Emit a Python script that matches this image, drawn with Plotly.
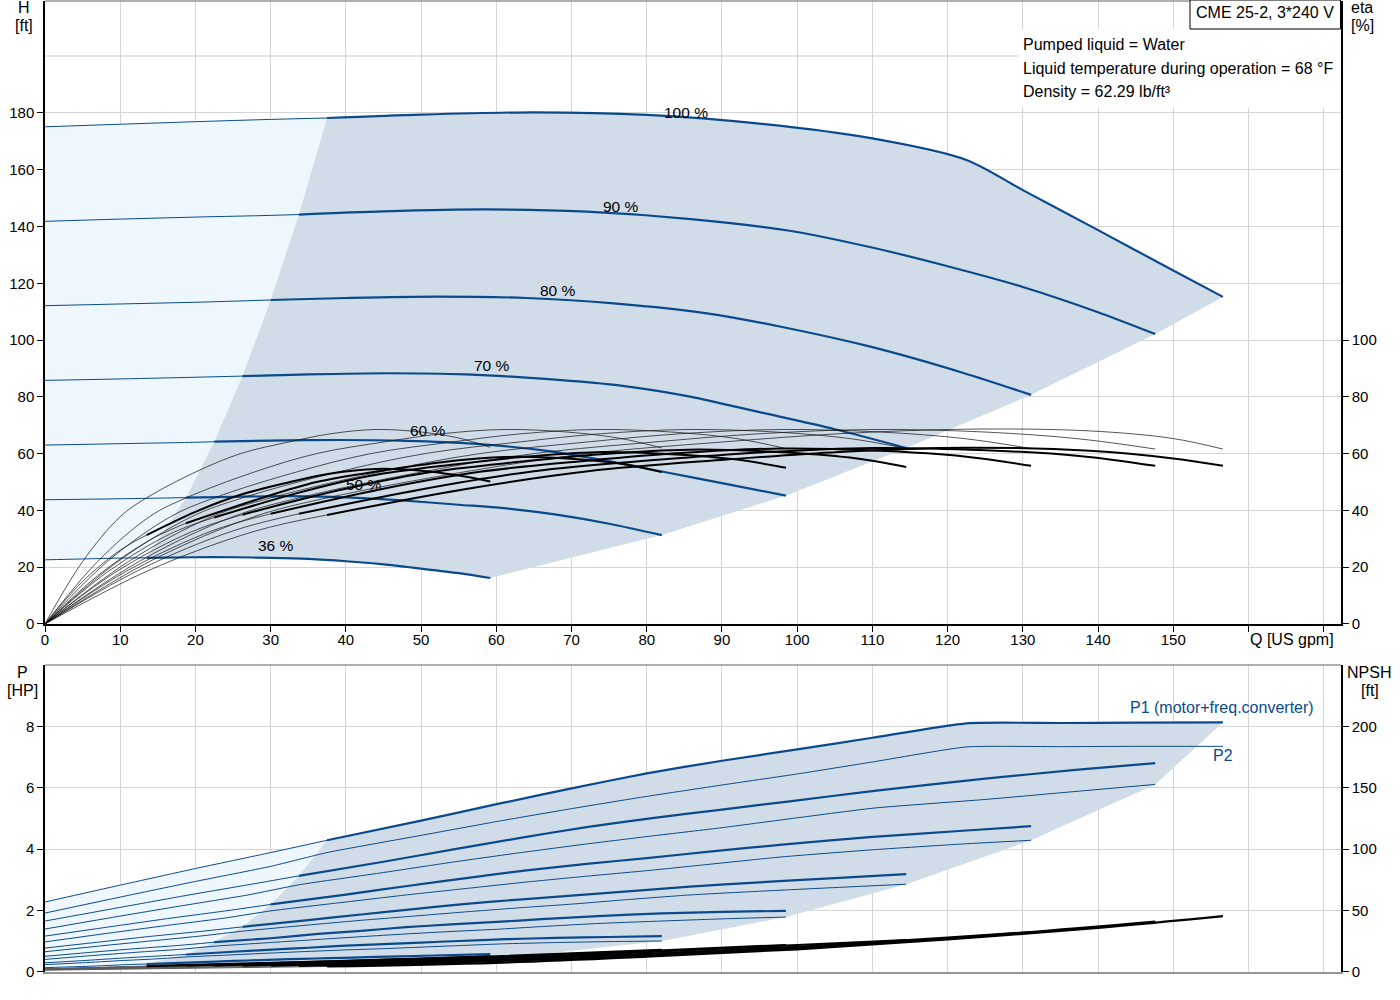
import numpy as np
import plotly.graph_objects as go

# ---------------- data ----------------
SPEEDS = ["100 %", "90 %", "80 %", "70 %", "60 %", "50 %", "36 %"]
QMIN = [37.5, 33.75, 30.0, 26.25, 22.5, 18.75, 13.5]   # min-flow point of each speed curve

# Head H [ft] vs Q [US gpm]
Q_H100 = [0, 10, 20, 30, 37.5, 50, 65, 80, 95, 110, 122.5, 130, 140, 150, 156.6]
H100 = [175.1, 176.0, 176.9, 177.7, 178.2, 179.4, 180.2, 179.3, 176.2, 171.0, 163.4, 152.8, 138.7, 124.5, 115.2]
Q_H90 = [0, 10, 20, 30, 33.75, 45, 58.5, 72, 85.5, 99, 110.25, 120, 130, 140, 147.6]
H90 = [141.8, 142.6, 143.3, 143.9, 144.2, 145.3, 146.0, 145.2, 142.7, 138.5, 132.4, 126.0, 118.7, 109.8, 102.1]
Q_H80 = [0, 10, 20, 30, 40, 52, 64, 76, 88, 98, 110, 122, 131.1]
H80 = [112.1, 112.7, 113.3, 114.1, 114.8, 115.3, 114.8, 112.8, 109.4, 104.6, 97.5, 88.5, 80.7]
Q_H70 = [0, 10, 20, 26.25, 35, 45.5, 56, 66.5, 77, 85.75, 95, 105, 114.5]
H70 = [85.8, 86.3, 86.9, 87.3, 87.9, 88.3, 87.9, 86.3, 83.8, 80.1, 74.6, 68.6, 62.0]
Q_H60 = [0, 10, 20, 22.5, 30, 39, 48, 57, 66, 74, 82, 90, 98.5]
H60 = [63.0, 63.5, 64.0, 64.2, 64.6, 64.8, 64.5, 63.5, 61.2, 57.8, 53.7, 49.6, 45.2]
Q_H50 = [0, 10, 18.75, 25, 32.5, 40, 47.5, 55, 61, 68, 75, 82]
H50 = [43.75, 44.1, 44.5, 44.8, 45.0, 44.6, 43.5, 42.0, 40.8, 38.5, 35.3, 31.3]
Q_H36 = [0, 5, 10, 13.5, 20, 25, 30, 35, 40, 45, 50, 55, 59.2]
H36 = [22.6, 22.9, 23.2, 23.3, 23.5, 23.5, 23.3, 22.9, 22.1, 21.0, 19.5, 17.9, 16.2]

# Efficiency eta [%] : pump (thin) and total (thick in operating range)
Q_E100 = [0, 13.9, 27.8, 37.5, 55.6, 72.2, 90.6, 105.6, 122.2, 138.9, 150, 156.6]
Q_E90 = [0, 12.5, 25, 33.75, 50, 65, 81.5, 95, 110, 125, 137.5, 147.6]
Q_E80 = [0, 11.1, 22.2, 30, 44.5, 57.8, 72.5, 84.5, 97.8, 111.1, 122.2, 131.1]
Q_E70 = [0, 9.7, 19.5, 26.25, 38.9, 50.5, 63.4, 73.9, 85.5, 97.2, 107, 114.5]
Q_E60 = [0, 8.3, 16.7, 22.5, 33.4, 43.3, 54.4, 63.4, 73.3, 83.3, 91.7, 98.5]
Q_E50 = [0, 7, 13.9, 18.75, 27.8, 36.1, 45.3, 52.8, 61.1, 69.4, 76.4, 82]
Q_E36 = [0, 5, 10, 13.5, 20, 26, 32.6, 38, 44, 50, 55, 59.2]

ETAP100 = [0, 22, 37.8, 44.4, 53.5, 60, 64.2, 67, 68.6, 68.0, 65.3, 61.6]
ETAP90 = [0, 22, 37.8, 44.4, 53.5, 60, 64.2, 67, 68.5, 67.6, 65.2, 61.6]
ETAP80 = [0, 22, 37.8, 44.4, 53.5, 60, 64.2, 67, 68.5, 67.6, 65.3, 61.8]
ETAP70 = [0, 22, 37.8, 44.4, 53.5, 60, 64.2, 67, 68.5, 67.6, 65.3, 61.8]
ETAP60 = [0, 22, 37.8, 44.4, 53.5, 60, 64.2, 67, 68.5, 67.6, 65.4, 61.8]
ETAP50 = [0, 22, 37.8, 44.4, 53.5, 60, 64.2, 67, 68.5, 67.6, 65.4, 62.0]
ETAP36 = [0, 22, 37.8, 44.4, 53.5, 60, 64.2, 67, 68.5, 67.6, 65.5, 62.2]

ETAT100 = [0, 19.0, 32.6, 38.4, 47.4, 53.8, 57.9, 60.6, 62.1, 61.0, 58.3, 55.7]
ETAT90 = [0, 19.0, 32.8, 38.8, 47.4, 53.8, 57.8, 60.4, 62.0, 61.2, 59.2, 55.7]
ETAT80 = [0, 19.0, 32.8, 38.8, 47.4, 53.6, 57.6, 60.2, 61.8, 61.0, 59.0, 55.7]
ETAT70 = [0, 18.8, 32.5, 38.5, 47.0, 53.2, 57.2, 59.8, 61.4, 60.6, 58.6, 55.3]
ETAT60 = [0, 18.3, 31.8, 37.5, 46.0, 52.2, 56.2, 58.8, 60.5, 59.8, 58.0, 55.0]
ETAT50 = [0, 17.0, 29.5, 35.5, 43.5, 50.0, 54.2, 57.0, 58.8, 58.3, 56.5, 53.5]
ETAT36 = [0, 15.0, 26.0, 31.3, 39.5, 45.5, 50.0, 53.0, 54.6, 54.0, 52.3, 50.2]

# Power P [HP]: P1 (motor+freq.converter) and P2
Q_P100 = [0, 10, 20, 30, 37.5, 50, 60.5, 70, 80, 90, 100, 110, 122.5, 135, 145, 156.6]
P1_100 = [2.28, 2.83, 3.37, 3.89, 4.29, 4.93, 5.49, 5.98, 6.47, 6.88, 7.25, 7.63, 8.10, 8.11, 8.12, 8.13]
P2_100 = [1.92, 2.44, 2.95, 3.44, 3.89, 4.45, 4.92, 5.32, 5.72, 6.09, 6.45, 6.84, 7.33, 7.34, 7.35, 7.35]
Q_P90 = [0, 9, 18, 27, 33.75, 45, 54.5, 63, 72, 81, 90, 99, 110.25, 125, 137, 147.6]
P1_90 = [1.66, 2.06, 2.46, 2.84, 3.13, 3.59, 4.00, 4.36, 4.72, 5.02, 5.29, 5.56, 5.90, 6.30, 6.58, 6.80]
P2_90 = [1.40, 1.78, 2.15, 2.51, 2.84, 3.24, 3.59, 3.88, 4.17, 4.44, 4.70, 4.99, 5.34, 5.62, 5.88, 6.11]
Q_P80 = [0, 8, 16, 24, 30, 40, 48.4, 56, 64, 72, 80, 88, 98, 110, 122, 131.1]
P1_80 = [1.17, 1.45, 1.73, 1.99, 2.20, 2.52, 2.81, 3.06, 3.31, 3.52, 3.71, 3.91, 4.15, 4.40, 4.60, 4.75]
P2_80 = [0.98, 1.25, 1.51, 1.76, 1.99, 2.28, 2.52, 2.72, 2.93, 3.12, 3.30, 3.50, 3.75, 3.98, 4.17, 4.29]
Q_P70 = [0, 7, 14, 21, 26.25, 35, 42.35, 49, 56, 63, 70, 77, 85.75, 95, 105, 114.5]
P1_70 = [0.78, 0.97, 1.16, 1.33, 1.47, 1.69, 1.88, 2.05, 2.22, 2.36, 2.49, 2.62, 2.78, 2.92, 3.06, 3.19]
P2_70 = [0.66, 0.84, 1.01, 1.18, 1.33, 1.53, 1.69, 1.82, 1.96, 2.09, 2.21, 2.35, 2.51, 2.63, 2.75, 2.86]
Q_P60 = [0, 6, 12, 18, 22.5, 30, 36.3, 42, 48, 54, 60, 66, 73.5, 82, 90, 98.5]
P1_60 = [0.51, 0.64, 0.76, 0.87, 0.97, 1.10, 1.24, 1.34, 1.46, 1.55, 1.63, 1.72, 1.82, 1.91, 1.96, 1.99]
P2_60 = [0.41, 0.53, 0.64, 0.74, 0.84, 0.96, 1.06, 1.15, 1.24, 1.32, 1.39, 1.48, 1.58, 1.66, 1.73, 1.79]
Q_P50 = [0, 5, 10, 15, 18.75, 25, 30.25, 35, 40, 45, 50, 55, 61.25, 68, 75, 82]
P1_50 = [0.30, 0.37, 0.45, 0.52, 0.57, 0.66, 0.73, 0.79, 0.86, 0.91, 0.96, 1.01, 1.07, 1.11, 1.14, 1.17]
P2_50 = [0.24, 0.30, 0.37, 0.43, 0.49, 0.56, 0.62, 0.67, 0.72, 0.76, 0.81, 0.86, 0.92, 0.96, 0.99, 1.01]
Q_P36 = [0, 3.6, 7.2, 10.8, 13.5, 18, 21.8, 25.2, 28.8, 32.4, 36, 39.6, 44.1, 50.4, 59.2]
P1_36 = [0.14, 0.17, 0.20, 0.24, 0.26, 0.30, 0.33, 0.36, 0.39, 0.42, 0.44, 0.46, 0.49, 0.53, 0.58]
P2_36 = [0.09, 0.11, 0.14, 0.16, 0.18, 0.21, 0.23, 0.25, 0.27, 0.28, 0.30, 0.32, 0.34, 0.37, 0.40]

# NPSH [ft]
Q_N100 = [0, 37.5, 60, 80, 100, 120, 140, 156.6]
N100 = [1.5, 4.5, 7.5, 12.5, 18.5, 26.5, 36.0, 45.5]
Q_N90 = [0, 33.75, 60, 80, 100, 120, 147.6]
N90 = [1.8, 5.0, 8.8, 13.5, 19.3, 27.2, 41.0]
Q_N80 = [0, 30, 60, 80, 100, 120, 131.1]
N80 = [2.0, 5.2, 10.0, 14.8, 20.5, 28.0, 32.5]
Q_N70 = [0, 26.25, 45, 60, 80, 100, 114.5]
N70 = [2.2, 5.3, 8.6, 11.2, 16.2, 22.0, 26.0]
Q_N60 = [0, 22.5, 40, 60, 80, 98.5]
N60 = [2.4, 5.4, 8.3, 12.0, 17.0, 22.0]
Q_N50 = [0, 18.75, 30, 45, 60, 82]
N50 = [2.5, 5.3, 7.2, 9.8, 12.8, 18.0]
Q_N36 = [0, 13.5, 25, 40, 50, 59.2]
N36 = [2.6, 4.8, 6.6, 9.0, 11.0, 12.8]

HEAD_Q = [Q_H100, Q_H90, Q_H80, Q_H70, Q_H60, Q_H50, Q_H36]
HEAD_H = [H100, H90, H80, H70, H60, H50, H36]
ETA_Q = [Q_E100, Q_E90, Q_E80, Q_E70, Q_E60, Q_E50, Q_E36]
ETA_P = [ETAP100, ETAP90, ETAP80, ETAP70, ETAP60, ETAP50, ETAP36]
ETA_T = [ETAT100, ETAT90, ETAT80, ETAT70, ETAT60, ETAT50, ETAT36]
POW_Q = [Q_P100, Q_P90, Q_P80, Q_P70, Q_P60, Q_P50, Q_P36]
POW_1 = [P1_100, P1_90, P1_80, P1_70, P1_60, P1_50, P1_36]
POW_2 = [P2_100, P2_90, P2_80, P2_70, P2_60, P2_50, P2_36]
NPSH_Q = [Q_N100, Q_N90, Q_N80, Q_N70, Q_N60, Q_N50, Q_N36]
NPSH_V = [N100, N90, N80, N70, N60, N50, N36]

# ---------------- styling ----------------
BLUE = "rgb(10,74,140)"
LIGHT = "rgb(238,246,254)"
DARK = "rgb(208,220,232)"
GRID = "rgb(212,212,212)"
FONT = "Liberation Sans, Arial, sans-serif"
QMAX = 172.3


def split(q, v, qmin):
    q = np.asarray(q, float)
    v = np.asarray(v, float)
    lo = q <= qmin + 1e-9
    hi = q >= qmin - 1e-9
    return (q[lo], v[lo]), (q[hi], v[hi])


def at(q, v, qx):
    return float(np.interp(qx, q, v))


fig = go.Figure()

# ---------- top chart regions ----------
(q100a, h100a), (q100b, h100b) = split(HEAD_Q[0], HEAD_H[0], QMIN[0])
(q36a, h36a), (q36b, h36b) = split(HEAD_Q[6], HEAD_H[6], QMIN[6])
lx = list(q100a)
ly = list(h100a)
for k in range(1, 7):
    lx.append(QMIN[k]); ly.append(at(HEAD_Q[k], HEAD_H[k], QMIN[k]))
lx += list(q36a[::-1]); ly += list(h36a[::-1])
fig.add_trace(go.Scatter(x=lx, y=ly, fill="toself", fillcolor=LIGHT, mode="lines",
                         line=dict(width=0), hoverinfo="skip", xaxis="x", yaxis="y"))

dx = list(q100b)
dy = list(h100b)
for k in range(1, 6):
    dx.append(HEAD_Q[k][-1]); dy.append(HEAD_H[k][-1])
dx += list(q36b[::-1]); dy += list(h36b[::-1])
for k in range(5, 0, -1):
    dx.append(QMIN[k]); dy.append(at(HEAD_Q[k], HEAD_H[k], QMIN[k]))
fig.add_trace(go.Scatter(x=dx, y=dy, fill="toself", fillcolor=DARK, mode="lines",
                         line=dict(width=0), hoverinfo="skip", xaxis="x", yaxis="y"))

# ---------- bottom chart regions ----------
(p1a, p1av), (p1b, p1bv) = split(POW_Q[0], POW_1[0], QMIN[0])
(p2a36, p2a36v), (p2b36, p2b36v) = split(POW_Q[6], POW_2[6], QMIN[6])
lx = list(p1a)
ly = list(p1av)
for k in range(1, 7):
    lx.append(QMIN[k]); ly.append(at(POW_Q[k], POW_1[k], QMIN[k]))
lx += list(p2a36[::-1]); ly += list(p2a36v[::-1])
fig.add_trace(go.Scatter(x=lx, y=ly, fill="toself", fillcolor=LIGHT, mode="lines",
                         line=dict(width=0), hoverinfo="skip", xaxis="x2", yaxis="y3"))

dx = list(p1b)
dy = list(p1bv)
for k in range(1, 6):
    dx.append(POW_Q[k][-1]); dy.append(POW_2[k][-1])
dx += list(p2b36[::-1]); dy += list(p2b36v[::-1])
for k in range(6, 0, -1):
    dx.append(QMIN[k]); dy.append(at(POW_Q[k], POW_1[k], QMIN[k]))
fig.add_trace(go.Scatter(x=dx, y=dy, fill="toself", fillcolor=DARK, mode="lines",
                         line=dict(width=0), hoverinfo="skip", xaxis="x2", yaxis="y3"))

# ---------- head curves ----------
for k in range(7):
    (qa, ha), (qb, hb) = split(HEAD_Q[k], HEAD_H[k], QMIN[k])
    fig.add_trace(go.Scatter(x=qa, y=ha, mode="lines", line=dict(color=BLUE, width=1, shape="spline"),
                             hoverinfo="skip", xaxis="x", yaxis="y"))
    fig.add_trace(go.Scatter(x=qb, y=hb, mode="lines", line=dict(color=BLUE, width=2.2, shape="spline", smoothing=0.8),
                             hoverinfo="skip", xaxis="x", yaxis="y"))

# ---------- efficiency curves ----------
for k in range(7):
    fig.add_trace(go.Scatter(x=ETA_Q[k], y=ETA_P[k], mode="lines",
                             line=dict(color="rgba(20,20,20,0.9)", width=0.8, shape="spline"),
                             hoverinfo="skip", xaxis="x", yaxis="y2"))
for k in range(7):
    (qa, ea), (qb, eb) = split(ETA_Q[k], ETA_T[k], QMIN[k])
    fig.add_trace(go.Scatter(x=qa, y=ea, mode="lines",
                             line=dict(color="rgba(20,20,20,0.9)", width=0.8, shape="spline"),
                             hoverinfo="skip", xaxis="x", yaxis="y2"))
    fig.add_trace(go.Scatter(x=qb, y=eb, mode="lines", line=dict(color="black", width=2, shape="spline"),
                             hoverinfo="skip", xaxis="x", yaxis="y2"))

# ---------- power curves ----------
for k in range(7):
    fig.add_trace(go.Scatter(x=POW_Q[k], y=POW_2[k], mode="lines", line=dict(color=BLUE, width=1, shape="spline", smoothing=0.5),
                             hoverinfo="skip", xaxis="x2", yaxis="y3"))
    (qa, pa), (qb, pb) = split(POW_Q[k], POW_1[k], QMIN[k])
    fig.add_trace(go.Scatter(x=qa, y=pa, mode="lines", line=dict(color=BLUE, width=1, shape="spline", smoothing=0.5),
                             hoverinfo="skip", xaxis="x2", yaxis="y3"))
    fig.add_trace(go.Scatter(x=qb, y=pb, mode="lines", line=dict(color=BLUE, width=2.2, shape="spline", smoothing=0.5),
                             hoverinfo="skip", xaxis="x2", yaxis="y3"))

# ---------- NPSH curves ----------
for k in range(7):
    (qa, na), (qb, nb) = split(NPSH_Q[k], NPSH_V[k], QMIN[k])
    fig.add_trace(go.Scatter(x=qa, y=na, mode="lines", line=dict(color="rgb(90,90,90)", width=1, shape="spline"),
                             hoverinfo="skip", xaxis="x2", yaxis="y4"))
    fig.add_trace(go.Scatter(x=qb, y=nb, mode="lines", line=dict(color="black", width=2.2, shape="spline"),
                             hoverinfo="skip", xaxis="x2", yaxis="y4"))

# ---------------- axes ----------------
TOP_DOM = [0.3584, 1.0]
BOT_DOM = [0.0, 0.3162]
H_MAX = 219.4
xt = list(range(0, 171, 10))
xlab = [str(v) if v <= 150 else "" for v in xt]
tickfont = dict(family=FONT, size=15, color="black")

common_x = dict(range=[0, QMAX], tickvals=xt, showgrid=True, gridcolor=GRID, gridwidth=1,
                zeroline=False, tickfont=tickfont, fixedrange=True)

fig.update_layout(
    width=1400, height=1000,
    margin=dict(l=45, r=59, t=1, b=28),
    paper_bgcolor="white", plot_bgcolor="white",
    showlegend=False,
    font=dict(family=FONT, size=15, color="black"),
    xaxis=dict(domain=[0, 1], anchor="y", ticktext=xlab, ticks="outside", ticklen=6,
               tickcolor="black", showline=True, linecolor="black", linewidth=1.5,
               ticklabelstandoff=-5, **common_x),
    yaxis=dict(domain=TOP_DOM, anchor="x", range=[0, H_MAX], tickvals=list(range(0, 181, 20)),
               ticks="outside", ticklen=6, tickcolor="black", showline=True, linecolor="black",
               linewidth=1.5, showgrid=True, gridcolor=GRID, zeroline=False, tickfont=tickfont,
               fixedrange=True),
    yaxis2=dict(overlaying="y", side="right", anchor="x", range=[0, H_MAX],
                tickvals=list(range(0, 101, 20)), ticks="outside", ticklen=6, tickcolor="black",
                showline=True, linecolor="black", linewidth=1.5, showgrid=False, zeroline=False,
                tickfont=tickfont, fixedrange=True),
    xaxis2=dict(domain=[0, 1], anchor="y3", showticklabels=False, ticks="",
                showline=True, linecolor="rgb(150,150,150)", linewidth=1.5, **common_x),
    yaxis3=dict(domain=BOT_DOM, anchor="x2", range=[0, 10], tickvals=[0, 2, 4, 6, 8],
                ticks="outside", ticklen=6, tickcolor="black", showline=True, linecolor="black",
                linewidth=1.5, showgrid=True, gridcolor=GRID, zeroline=False, tickfont=tickfont,
                fixedrange=True),
    yaxis4=dict(overlaying="y3", side="right", anchor="x2", range=[0, 250],
                tickvals=[0, 50, 100, 150, 200], ticks="outside", ticklen=6, tickcolor="black",
                showline=True, linecolor="black", linewidth=1.5, showgrid=False, zeroline=False,
                tickfont=tickfont, fixedrange=True),
)

# ---------------- shapes ----------------
shapes = [
    dict(type="line", xref="x domain", yref="y", x0=0, x1=1, y0=200, y1=200,
         line=dict(color="rgb(228,228,228)", width=2), layer="below"),
    dict(type="line", xref="x domain", yref="y domain", x0=0, x1=1, y0=1, y1=1,
         line=dict(color="rgb(150,150,150)", width=1.5)),
    dict(type="line", xref="x2 domain", yref="y3 domain", x0=0, x1=1, y0=1, y1=1,
         line=dict(color="rgb(150,150,150)", width=1.5)),
    dict(type="rect", xref="x", yref="y", x0=129.4, x1=QMAX, y0=181.8, y1=209.5,
         fillcolor="white", line=dict(width=0), layer="between"),
]


def PX(px):
    return (px - 45) / 1296.0


def PY(py):
    return (972 - py) / 971.0


shapes.append(dict(type="rect", xref="paper", yref="paper", x0=PX(1190), x1=PX(1340.5),
                   y0=PY(29), y1=PY(0), fillcolor="white", line=dict(color="black", width=1)))
fig.update_layout(shapes=shapes)

# ---------------- annotations ----------------
ann = []


def txt(s, px, py, size=16, color="black", xanchor="center"):
    ann.append(dict(text=s, x=PX(px), y=PY(py), xref="paper", yref="paper", showarrow=False,
                    xanchor=xanchor, yanchor="middle", font=dict(family=FONT, size=size, color=color)))


txt("H", 24, 7)
txt("[ft]", 24, 25)
txt("eta", 1362, 7)
txt("[%]", 1362, 25)
txt("P", 22, 672)
txt("[HP]", 22, 690)
txt("NPSH", 1369, 672)
txt("[ft]", 1370, 690)
txt("Q [US gpm]", 1292, 639)
txt("CME 25-2, 3*240 V", 1265, 13)
txt("Pumped liquid = Water", 1021, 44, xanchor="left")
txt("Liquid temperature during operation = 68 °F", 1021, 68, xanchor="left")
txt("Density = 62.29 lb/ft³", 1021, 92, xanchor="left")
txt("P1 (motor+freq.converter)", 1222, 707, color=BLUE)
txt("P2", 1223, 755, color=BLUE)

LABEL_AT = [(85.2, 180.3), (76.6, 147.2), (68.2, 117.3), (59.4, 90.9), (50.9, 68.3), (42.4, 49.0), (30.7, 27.8)]
for name, (lq, lh) in zip(SPEEDS, LABEL_AT):
    ann.append(dict(text=name, x=lq, y=lh, xref="x", yref="y", showarrow=False,
                    xanchor="center", yanchor="middle", font=dict(family=FONT, size=15.5, color="black")))

fig.update_layout(annotations=ann)

fig.write_html("out.html", config={"displayModeBar": False},
               post_script="document.body.style.margin='0';document.body.style.overflow='hidden';")
